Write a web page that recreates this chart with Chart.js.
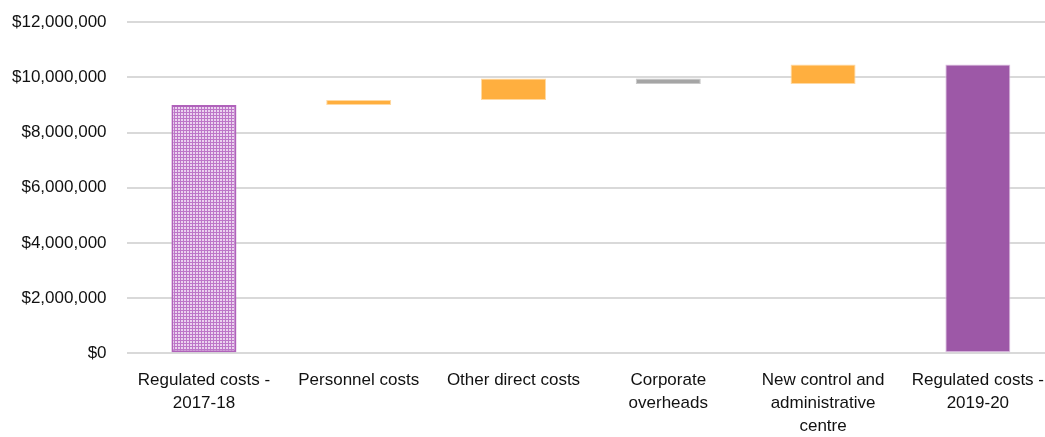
<!DOCTYPE html>
<html lang="en">
<head>
    <meta charset="UTF-8">
    <title>Regulated costs waterfall</title>
    <script src="https://cdn.jsdelivr.net/npm/chart.js"></script>
    <style>
        html, body { margin: 0; padding: 0; background: white; overflow: hidden; }
        .chart-container { position: relative; top: -8px; width: 1060px; height: 445px; }
    </style>
</head>
<body>
    <div class="chart-container">
        <canvas id="costChart"></canvas>
    </div>

    <script>
        // categories (multi-line labels as in the original)
        const categories = [
            ['Regulated costs -', '2017-18'],
            'Personnel costs',
            'Other direct costs',
            ['Corporate', 'overheads'],
            ['New control and', 'administrative', 'centre'],
            ['Regulated costs -', '2019-20']
        ];
        // start total, changes, end total
        const startTotal = 9000000;
        const changes = [180000, 780000, -200000, 710000];
        const endTotal = 10470000;
        const yTicks = { min: 0, max: 12000000, step: 2000000 };

        const orange = '#FFAF3F';
        const grey = '#A5A5A5';
        const purple = '#9D58A7';

        function hatchPattern() {
            const c = document.createElement('canvas');
            c.width = 3; c.height = 3;
            const g = c.getContext('2d');
            g.fillStyle = '#BD76C8';
            g.fillRect(0, 0, 3, 3);
            g.fillStyle = '#EBD2EF';
            g.fillRect(1, 1, 2, 2);
            return g.createPattern(c, 'repeat');
        }

        // build floating bars
        let running = startTotal;
        const bars = [[0, startTotal]];
        const colors = [hatchPattern()];
        const borders = ['#B062BB'];
        const widths = [2];
        changes.forEach(v => {
            bars.push([running, running + v]);
            running += v;
            colors.push(v >= 0 ? orange : grey);
            borders.push(v >= 0 ? '#FFD9A3' : '#C9C9C9');
            widths.push(1);
        });
        bars.push([0, endTotal]);
        colors.push(purple);
        borders.push('#DDBFE2');
        widths.push(1);

        const labelFont = { family: "Arial, 'Liberation Sans', sans-serif", size: 17, lineHeight: 1.35 };

        new Chart(document.getElementById('costChart'), {
            type: 'bar',
            data: {
                labels: categories,
                datasets: [{
                    data: bars,
                    backgroundColor: colors,
                    borderColor: borders,
                    borderWidth: widths,
                    borderSkipped: false,
                    barPercentage: 0.42,
                    categoryPercentage: 1
                }]
            },
            options: {
                responsive: true,
                maintainAspectRatio: false,
                animation: false,
                layout: { padding: { top: 0, left: -8, right: 0, bottom: -17 } },
                plugins: { legend: { display: false }, tooltip: { enabled: false } },
                scales: {
                    x: {
                        grid: { display: false, drawTicks: false },
                        border: { display: false },
                        ticks: { color: '#111', font: labelFont, maxRotation: 0, autoSkip: false, padding: 16 }
                    },
                    y: {
                        min: yTicks.min,
                        max: yTicks.max,
                        grid: { color: '#D9D9D9', lineWidth: 2, drawTicks: false },
                        border: { display: false },
                        ticks: {
                            stepSize: yTicks.step,
                            color: '#111',
                            font: { family: labelFont.family, size: 17 },
                            padding: 20,
                            callback: v => '$' + v.toLocaleString('en-US')
                        }
                    }
                }
            }
        });
    </script>
</body>
</html>
